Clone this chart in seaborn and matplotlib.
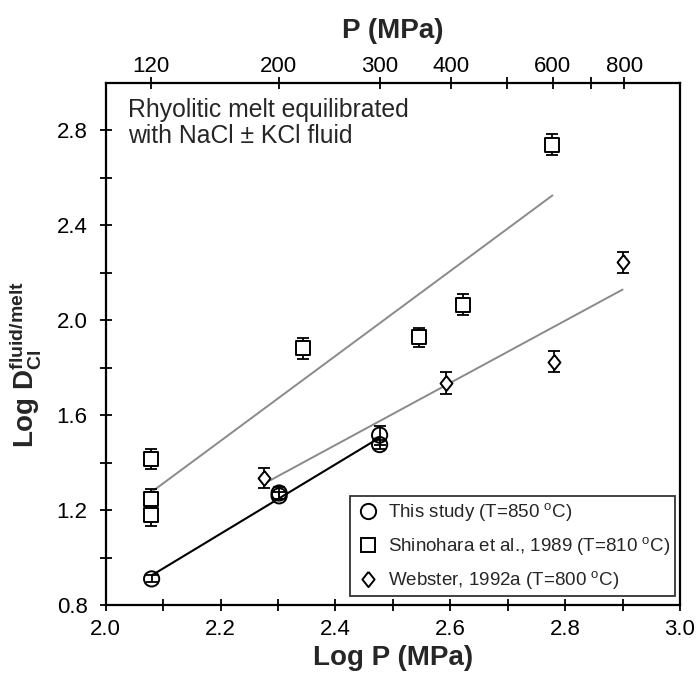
import numpy as np
import pandas as pd
import matplotlib
matplotlib.use("Agg")
import matplotlib.pyplot as plt
from matplotlib.lines import Line2D
from matplotlib.ticker import FixedLocator, MultipleLocator, FormatStrFormatter
import seaborn as sns

# ---- data ----
study_x = [2.080, 2.302, 2.302, 2.477, 2.477]
study_y = [0.910, 1.272, 1.260, 1.516, 1.476]
study_err = [0.015, 0.025, 0.015, 0.040, 0.020]

shin_x = [2.079, 2.079, 2.079, 2.343, 2.546, 2.623, 2.778]
shin_y = [1.416, 1.246, 1.180, 1.882, 1.928, 2.066, 2.740]
shin_err = [0.043, 0.042, 0.045, 0.045, 0.040, 0.045, 0.045]

web_x = [2.276, 2.593, 2.780, 2.900]
web_y = [1.336, 1.735, 1.825, 2.244]
web_err = [0.043, 0.045, 0.045, 0.043]

top_P = [120, 200, 300, 400, 500, 600, 700, 800]
top_labels = ["120", "200", "300", "400", "", "600", "", "800"]

legend_labels = ["This study (T=850 $^{\\mathrm{o}}$C)",
                 "Shinohara et al., 1989 (T=810 $^{\\mathrm{o}}$C)",
                 "Webster, 1992a (T=800 $^{\\mathrm{o}}$C)"]

sns.set_theme(style="ticks")
plt.rcParams["font.family"] = ["Liberation Sans", "DejaVu Sans"]
plt.rcParams["mathtext.fontset"] = "custom"
plt.rcParams["mathtext.rm"] = "Liberation Sans"
plt.rcParams["mathtext.it"] = "Liberation Sans:italic"
plt.rcParams["mathtext.bf"] = "Liberation Sans:bold"

fig = plt.figure(figsize=(6.98, 6.83), dpi=100)
ax = fig.add_axes([0.1514, 0.1142, 0.9742 - 0.1514, 0.8785 - 0.1142])

diamond = [(0, 1), (0.8, 0), (0, -1), (-0.8, 0), (0, 1)]

# regression lines
sns.regplot(x=shin_x, y=shin_y, scatter=False, ci=None, truncate=True, ax=ax,
            line_kws=dict(color="#8a8a8a", lw=1.4, zorder=1))
sns.regplot(x=web_x, y=web_y, scatter=False, ci=None, truncate=True, ax=ax,
            line_kws=dict(color="#8a8a8a", lw=1.4, zorder=1))
sns.regplot(x=study_x, y=study_y, scatter=False, ci=None, truncate=True, ax=ax,
            line_kws=dict(color="black", lw=1.5, zorder=1))

# error bars
for xs, ys, es in [(study_x, study_y, study_err), (shin_x, shin_y, shin_err), (web_x, web_y, web_err)]:
    ax.errorbar(xs, ys, yerr=es, fmt="none", ecolor="black", elinewidth=1.3,
                capsize=4, capthick=1.3, zorder=2)

# markers
sns.scatterplot(x=shin_x, y=shin_y, marker="s", s=105, facecolor="white",
                edgecolor="black", linewidth=1.4, ax=ax, zorder=3)
sns.scatterplot(x=web_x, y=web_y, marker=diamond, s=115, facecolor="white",
                edgecolor="black", linewidth=1.4, ax=ax, zorder=3)
sns.scatterplot(x=study_x, y=study_y, marker="o", s=120, facecolor="none",
                edgecolor="black", linewidth=1.4, ax=ax, zorder=4)

ax.set_xlim(2.0, 3.0)
ax.set_ylim(0.8, 3.0)
ax.xaxis.set_major_locator(MultipleLocator(0.2))
ax.xaxis.set_minor_locator(FixedLocator([2.1, 2.3, 2.5, 2.7, 2.9]))
ax.yaxis.set_major_locator(MultipleLocator(0.4))
ax.yaxis.set_minor_locator(FixedLocator([1.0, 1.4, 1.8, 2.2, 2.6]))
ax.xaxis.set_major_formatter(FormatStrFormatter("%.1f"))
ax.yaxis.set_major_formatter(FormatStrFormatter("%.1f"))
ax.tick_params(which="both", direction="inout", length=8, width=1.3,
               labelsize=16, colors="black", top=False, right=False)
ax.tick_params(axis="y", which="both", pad=9)
ax.tick_params(axis="x", which="both", pad=6)
for sp in ax.spines.values():
    sp.set_linewidth(1.6)
    sp.set_color("black")
    sp.set_visible(True)

ax.set_xlabel("Log P (MPa)", fontsize=20, fontweight="bold", labelpad=4)
ax.set_ylabel(r"Log D$_{\mathbf{Cl}}^{\mathbf{fluid/melt}}$", fontsize=20,
              fontweight="bold")
ax.yaxis.set_label_coords(-0.108, 0.46)

# top axis
ax2 = ax.twiny()
ax2.set_xlim(ax.get_xlim())
ax2.set_xticks(np.log10(top_P))
ax2.set_xticklabels(top_labels)
ax2.tick_params(axis="x", direction="inout", length=8, width=1.3, labelsize=16,
                pad=0, colors="black")
for sp in ax2.spines.values():
    sp.set_visible(False)
ax2.set_xlabel("P (MPa)", fontsize=20, fontweight="bold", labelpad=13)

ax.text(2.039, 2.935, "Rhyolitic melt equilibrated\nwith NaCl \u00b1 KCl fluid",
        fontsize=17.8, va="top", ha="left", linespacing=1.1)

handles = [
    Line2D([], [], ls="none", marker="o", markersize=11, markerfacecolor="none",
           markeredgecolor="black", markeredgewidth=1.4),
    Line2D([], [], ls="none", marker="s", markersize=10, markerfacecolor="white",
           markeredgecolor="black", markeredgewidth=1.4),
    Line2D([], [], ls="none", marker=diamond, markersize=11, markerfacecolor="white",
           markeredgecolor="black", markeredgewidth=1.4),
]
leg = ax.legend(handles, legend_labels, loc="lower right",
                bbox_to_anchor=(0.991, 0.017), borderaxespad=0, fontsize=13.5,
                frameon=True, fancybox=False, edgecolor="black",
                handlelength=1.42, handletextpad=0.36, labelspacing=0.65,
                borderpad=0.25)
leg.get_frame().set_linewidth(1.3)

fig.savefig("out.png", dpi=100)
